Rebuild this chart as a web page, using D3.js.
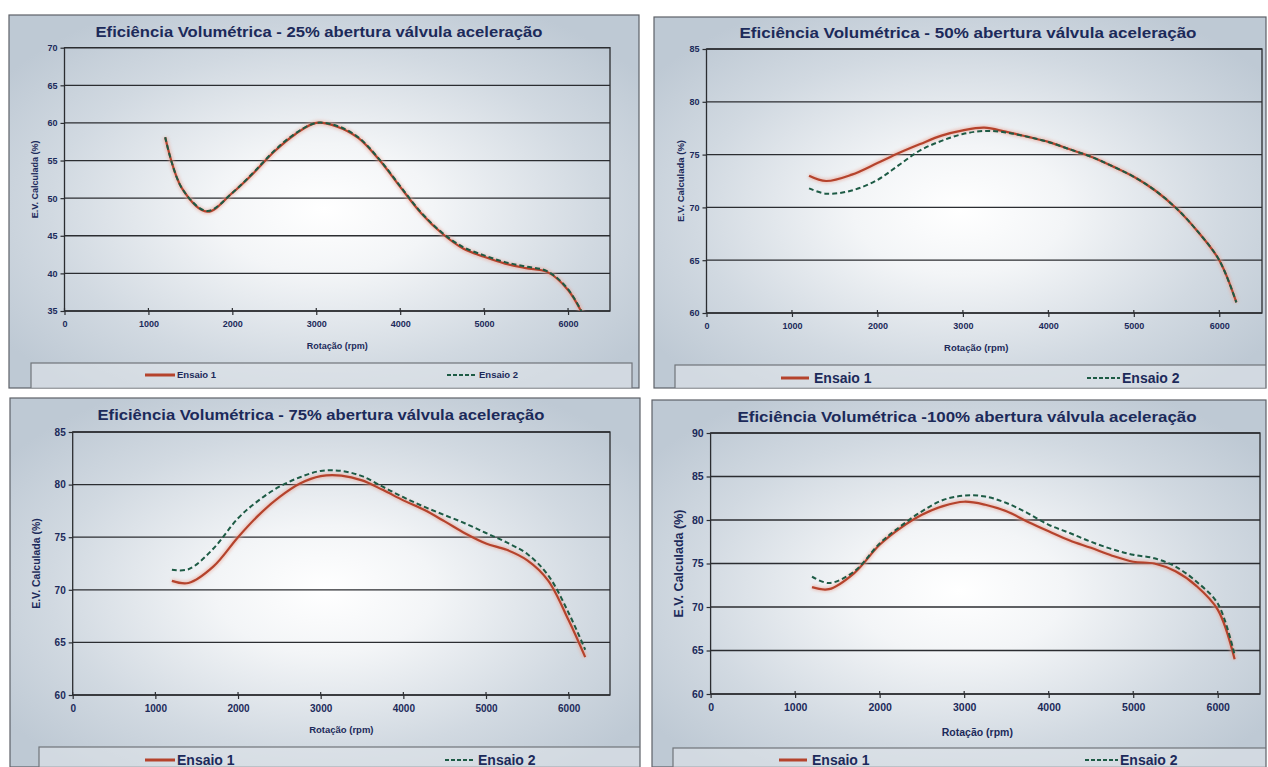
<!DOCTYPE html>
<html>
<head>
<meta charset="utf-8">
<script src="https://cdn.jsdelivr.net/npm/d3@7"></script>
<style>
  body { margin: 0; background: #ffffff; }
  svg { display: block; }
  text { font-family: "Liberation Sans", Arial, sans-serif; fill: #1c2a5a; }
</style>
</head>
<body>
<svg id="chart" width="1268" height="767"></svg>
<script>
// Engine speed (rpm) at which the volumetric efficiency was evaluated
const rpm = [1200, 1400, 1700, 2000, 2250, 2500, 2750, 3000, 3250, 3500, 3750,
             4000, 4250, 4500, 4750, 5000, 5250, 5500, 5750, 6000, 6200];

// Volumetric efficiency (%) — 25% throttle opening
const ev25Ensaio1 = [58.1, 51.3, 48.2, 50.7, 53.3, 56.2, 58.5, 60.0, 59.5, 58.0, 55.1,
                     51.5, 48.0, 45.3, 43.3, 42.2, 41.3, 40.7, 40.2, 37.8, 34.0];
const ev25Ensaio2 = [58.1, 51.3, 48.3, 50.7, 53.4, 56.3, 58.6, 60.0, 59.6, 58.1, 55.2,
                     51.6, 48.1, 45.4, 43.5, 42.4, 41.5, 40.9, 40.3, 37.9, 34.1];

// 50% throttle opening
const ev50Ensaio1 = [73.0, 72.5, 73.1, 74.2, 75.15, 76.0, 76.8, 77.3, 77.55, 77.17, 76.7,
                     76.2, 75.5, 74.8, 73.9, 72.9, 71.6, 69.9, 67.7, 65.0, 61.0];
const ev50Ensaio2 = [71.8, 71.3, 71.6, 72.6, 74.0, 75.4, 76.3, 76.95, 77.24, 77.1, 76.7,
                     76.2, 75.5, 74.8, 73.9, 72.9, 71.6, 69.9, 67.7, 65.0, 61.0];

// 75% throttle opening
const ev75Ensaio1 = [70.85, 70.65, 72.2, 75.0, 77.1, 78.8, 80.1, 80.8, 80.85, 80.4, 79.5,
                     78.5, 77.6, 76.5, 75.35, 74.4, 73.8, 72.8, 70.9, 67.1, 63.6];
const ev75Ensaio2 = [71.9, 71.95, 73.9, 76.8, 78.5, 79.8, 80.7, 81.3, 81.3, 80.8, 79.8,
                     78.8, 77.9, 77.1, 76.3, 75.4, 74.5, 73.4, 71.4, 67.8, 64.3];

// 100% throttle opening
const ev100Ensaio1 = [72.28, 72.05, 73.9, 77.15, 79.1, 80.6, 81.6, 82.1, 81.75, 81.0, 79.8,
                      78.7, 77.65, 76.8, 75.9, 75.2, 75.0, 74.1, 72.4, 69.7, 64.0];
const ev100Ensaio2 = [73.5, 72.75, 74.1, 77.3, 79.3, 81.0, 82.3, 82.8, 82.7, 81.95, 80.8,
                      79.45, 78.5, 77.5, 76.65, 76.0, 75.6, 74.65, 72.9, 70.4, 64.5];

// Axis ticks
const xTicks = [0, 1000, 2000, 3000, 4000, 5000, 6000];
const yTicks25 = [35, 40, 45, 50, 55, 60, 65, 70];
const yTicks50 = [60, 65, 70, 75, 80, 85];
const yTicks75 = [60, 65, 70, 75, 80, 85];
const yTicks100 = [60, 65, 70, 75, 80, 85, 90];

// Text
const titles = [
  "Eficiência Volumétrica - 25% abertura válvula aceleração",
  "Eficiência Volumétrica - 50% abertura válvula aceleração",
  "Eficiência Volumétrica - 75% abertura válvula aceleração",
  "Eficiência Volumétrica -100% abertura válvula aceleração"
];
const seriesNames = ["Ensaio 1", "Ensaio 2"];
const xTitle = "Rotação (rpm)";
const yTitle = "E.V. Calculada (%)";

// Panel layout: frame, plot area, legend box and type sizes
const panels = [
  { e1: ev25Ensaio1, e2: ev25Ensaio2, yt: yTicks25, title: titles[0], titleW: 447,
    frame: [9, 15, 639, 388], plot: [64.5, 47.7, 610, 311],
    titleXY: [319, 37], xTitleY: 349, yTitleX: 38, tickFs: 9, axFs: 9, yAxFs: 9,
    legend: { box: [31, 363, 632, 388], y: 375, fs: 9.5,
              l1: [145, 175], t1: 177, l2: [447, 477], t2: 479 } },
  { e1: ev50Ensaio1, e2: ev50Ensaio2, yt: yTicks50, title: titles[1], titleW: 457,
    frame: [654, 17, 1266, 388], plot: [706.5, 49, 1262, 313],
    titleXY: [968, 38], xTitleY: 351, yTitleX: 684, tickFs: 9, axFs: 9.5, yAxFs: 9.5,
    legend: { box: [675, 365, 1266, 388], y: 378, fs: 14,
              l1: [781, 809], t1: 814, l2: [1087, 1120], t2: 1122 } },
  { e1: ev75Ensaio1, e2: ev75Ensaio2, yt: yTicks75, title: titles[2], titleW: 447,
    frame: [10, 398, 640, 767], plot: [72.7, 432, 610, 695],
    titleXY: [321, 420], xTitleY: 733, yTitleX: 40, tickFs: 10, axFs: 9.5, yAxFs: 10.5,
    legend: { box: [39, 747, 640, 767], y: 760, fs: 14,
              l1: [145, 175], t1: 177, l2: [445, 475], t2: 478 } },
  { e1: ev100Ensaio1, e2: ev100Ensaio2, yt: yTicks100, title: titles[3], titleW: 459,
    frame: [652, 400, 1266, 767], plot: [710.6, 433, 1260, 694],
    titleXY: [967, 422], xTitleY: 736, yTitleX: 683, tickFs: 10.5, axFs: 10.5, yAxFs: 12.5,
    legend: { box: [673, 748, 1266, 767], y: 760, fs: 14,
              l1: [779, 807], t1: 812, l2: [1085, 1118], t2: 1120 } }
];

const colorE1 = "#b5432c";
const colorE2 = "#1d5b45";

const svg = d3.select("#chart");
const defs = svg.append("defs");

// Soft radial sheen behind each panel
const grad = defs.append("radialGradient").attr("id", "sheen")
  .attr("cx", "0.5").attr("cy", "0.52").attr("r", "0.62");
grad.append("stop").attr("offset", "0").attr("stop-color", "#ffffff");
grad.append("stop").attr("offset", "0.28").attr("stop-color", "#f3f5f7");
grad.append("stop").attr("offset", "0.7").attr("stop-color", "#d1d9e1");
grad.append("stop").attr("offset", "1").attr("stop-color", "#bec9d4");

// Slight glow that follows the red trace
defs.append("filter").attr("id", "glow").attr("x", "-5%").attr("y", "-5%")
  .attr("width", "110%").attr("height", "110%")
  .append("feGaussianBlur").attr("stdDeviation", 1.6);

panels.forEach((p, i) => {
  const [fx0, fy0, fx1, fy1] = p.frame;
  const [px0, py0, px1, py1] = p.plot;
  const g = svg.append("g");

  const clipFrame = "frame" + i;
  defs.append("clipPath").attr("id", clipFrame)
    .append("rect").attr("x", fx0).attr("y", fy0).attr("width", fx1 - fx0).attr("height", fy1 - fy0);

  g.append("rect").attr("x", fx0).attr("y", fy0).attr("width", fx1 - fx0).attr("height", fy1 - fy0)
    .attr("fill", "url(#sheen)").attr("stroke", "#5d6168").attr("stroke-width", 1.2);

  const x = d3.scaleLinear().domain([0, 6500]).range([px0, px1]);
  const y = d3.scaleLinear().domain([p.yt[0], p.yt[p.yt.length - 1]]).range([py1, py0]);

  // Horizontal gridlines
  g.append("g").selectAll("line").data(p.yt).join("line")
    .attr("x1", px0).attr("x2", px1)
    .attr("y1", d => y(d)).attr("y2", d => y(d))
    .attr("stroke", "#2b2d31").attr("stroke-width", 1.3);

  // Plot area border
  g.append("rect").attr("x", px0).attr("y", py0).attr("width", px1 - px0).attr("height", py1 - py0)
    .attr("fill", "none").attr("stroke", "#2b2d31").attr("stroke-width", 1.3);

  // Axes
  const yAxis = g.append("g").attr("transform", `translate(${px0},0)`)
    .call(d3.axisLeft(y).tickValues(p.yt).tickSize(4).tickPadding(3).tickFormat(d3.format("d")));
  const xAxis = g.append("g").attr("transform", `translate(0,${py1})`)
    .call(d3.axisBottom(x).tickValues(xTicks).tickSize(4).tickPadding(6).tickFormat(d3.format("d")));
  [yAxis, xAxis].forEach(a => {
    a.select(".domain").remove();
    a.selectAll(".tick line").attr("stroke", "#2b2d31").attr("stroke-width", 1.2);
    a.selectAll(".tick text").attr("font-size", p.tickFs).attr("font-weight", "bold")
      .attr("fill", "#1c2a5a").style("font-family", '"Liberation Sans", Arial, sans-serif');
  });
  // small marks crossing into the plot at each x tick
  g.append("g").selectAll("line").data(xTicks).join("line")
    .attr("x1", d => x(d)).attr("x2", d => x(d)).attr("y1", py1 - 3).attr("y2", py1)
    .attr("stroke", "#2b2d31").attr("stroke-width", 1.2);

  // Titles
  g.append("text").attr("x", p.titleXY[0]).attr("y", p.titleXY[1]).attr("text-anchor", "middle")
    .attr("font-size", 15.5).attr("font-weight", "bold").attr("fill", "#1b2858")
    .attr("textLength", p.titleW).attr("lengthAdjust", "spacingAndGlyphs").text(p.title);
  g.append("text").attr("x", (px0 + px1) / 2 + (i % 2 ? -8 : 0)).attr("y", p.xTitleY).attr("text-anchor", "middle")
    .attr("font-size", p.axFs).attr("font-weight", "bold").text(xTitle);
  g.append("text").attr("transform", `translate(${p.yTitleX},${(py0 + py1) / 2}) rotate(-90)`)
    .attr("text-anchor", "middle").attr("font-size", p.yAxFs).attr("font-weight", "bold").text(yTitle);

  // Series
  const clipPlot = "plot" + i;
  defs.append("clipPath").attr("id", clipPlot)
    .append("rect").attr("x", px0).attr("y", py0).attr("width", px1 - px0).attr("height", py1 - py0);
  const line = d3.line().x((d, k) => x(rpm[k])).y(d => y(d)).curve(d3.curveCatmullRom.alpha(0.5));
  const series = g.append("g").attr("clip-path", `url(#${clipPlot})`);
  series.append("path").attr("d", line(p.e1)).attr("fill", "none")
    .attr("stroke", "#eaa89a").attr("stroke-width", 5).attr("opacity", 0.6).attr("filter", "url(#glow)");
  series.append("path").attr("d", line(p.e1)).attr("fill", "none")
    .attr("stroke", colorE1).attr("stroke-width", 2.2);
  series.append("path").attr("d", line(p.e2)).attr("fill", "none")
    .attr("stroke", colorE2).attr("stroke-width", 2).attr("stroke-dasharray", "5,3");

  // Legend
  const L = p.legend;
  const lg = g.append("g").attr("clip-path", `url(#${clipFrame})`);
  lg.append("rect").attr("x", L.box[0]).attr("y", L.box[1])
    .attr("width", L.box[2] - L.box[0]).attr("height", L.box[3] - L.box[1] + 2)
    .attr("fill", "#dfe4ea").attr("fill-opacity", 0.6).attr("stroke", "#70747a").attr("stroke-width", 1.2);
  lg.append("line").attr("x1", L.l1[0]).attr("x2", L.l1[1]).attr("y1", L.y).attr("y2", L.y)
    .attr("stroke", colorE1).attr("stroke-width", 3);
  lg.append("line").attr("x1", L.l2[0]).attr("x2", L.l2[1]).attr("y1", L.y).attr("y2", L.y)
    .attr("stroke", colorE2).attr("stroke-width", 2).attr("stroke-dasharray", "4,2");
  lg.append("text").attr("x", L.t1).attr("y", L.y + L.fs * 0.36).attr("font-size", L.fs)
    .attr("font-weight", "bold").text(seriesNames[0]);
  lg.append("text").attr("x", L.t2).attr("y", L.y + L.fs * 0.36).attr("font-size", L.fs)
    .attr("font-weight", "bold").text(seriesNames[1]);
});
</script>
</body>
</html>
